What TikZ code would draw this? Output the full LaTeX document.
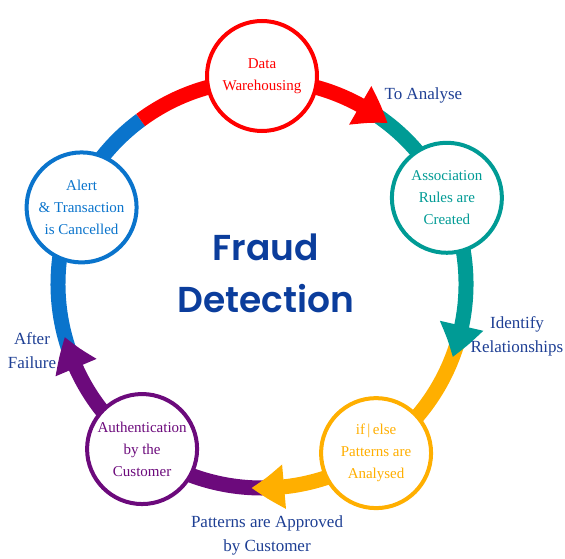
\documentclass[tikz,border=0pt]{standalone}
\usepackage{fontspec}
\setmainfont{Liberation Serif}
\newfontfamily\titlefont{Poppins}[BoldFont={Poppins SemiBold}]
\usetikzlibrary{arrows.meta,bending,calc}

\definecolor{ringred}{HTML}{FF0000}
\definecolor{ringteal}{HTML}{009B95}
\definecolor{ringorange}{HTML}{FFAF00}
\definecolor{ringpurple}{HTML}{6C0A7C}
\definecolor{ringblue}{HTML}{0A74CC}
\definecolor{labelnavy}{HTML}{1E3F94}
\definecolor{titlenavy}{HTML}{0B3D9C}

\begin{document}
\begin{tikzpicture}[x=1pt, y=1pt,
    stage/.style={circle, draw, line width=4pt, fill=white, minimum size=110pt, inner sep=0pt, align=center, font=\fontsize{15}{22}\selectfont},
    band/.style={line width=15pt, line cap=butt},
    tag/.style={text=labelnavy, align=center, font=\fontsize{17}{24}\selectfont}]

    \useasboundingbox (0,0) rectangle (565,558);
    \coordinate (ctr) at (262,274);

    % Draw the ring, blue part first so that every arrow head lies on top of the next colour
    \draw[band, ringblue] ($(ctr)+(200:204)$) arc[start angle=200, end angle=126.5, radius=204];
    \foreach \col/\from/\to in {ringpurple/-88/-165, ringorange/-16/-93, ringteal/57/-21, ringred/126.5/52} {
        \draw[band, \col, -{Triangle[width=42pt, length=33pt, bend]}] ($(ctr)+(\from:204)$) arc[start angle=\from, end angle=\to, radius=204];
    }

    % Draw the five stages on the ring
    \foreach \i/\ang/\rad/\col/\txt in {1/90/208/ringred/{Data\\Warehousing}, 2/25/204/ringteal/{Association\\Rules are\\Created}, 3/-56/204/ringorange/{if\,|\,else\\Patterns are\\Analysed}, 4/-126/204/ringpurple/{Authentication\\by the\\Customer}, 5/157/196/ringblue/{Alert\\\& Transaction\\is Cancelled}} {
        \node[stage, draw=\col, text=\col] (stage\i) at ($(ctr)+(\ang:\rad)$) {\txt};
    }

    % Labels along the ring
    \node[tag, anchor=west] (toAnalyse) at (381,463) {To Analyse};
    \node[tag] (identify) at (517,222) {Identify\\Relationships};
    \node[tag] (approved) at (267,23) {Patterns are Approved\\by Customer};
    \node[tag] (afterFailure) at (32,207) {After\\Failure};

    % Title in the middle
    \node[text=titlenavy, align=center, font=\titlefont\bfseries\fontsize{36}{52}\selectfont] (title) at (266,285) {Fraud\\Detection};
\end{tikzpicture}
\end{document}
